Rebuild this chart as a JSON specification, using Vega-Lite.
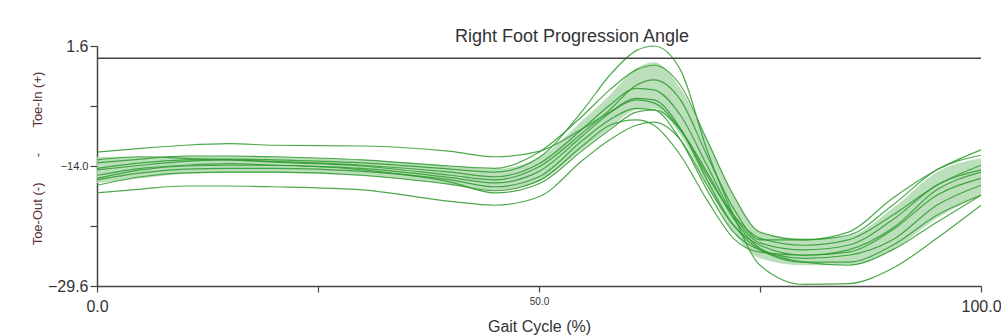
{
  "$schema": "https://vega.github.io/schema/vega-lite/v6.json",
  "width": 884,
  "height": 240,
  "autosize": "none",
  "padding": {"left": 97, "top": 46, "right": 20, "bottom": 49},
  "background": "white",
  "config": {"view": {"stroke": null}, "font": "Liberation Sans"},
  "title": {"text": "Right Foot Progression Angle", "fontSize": 18, "fontWeight": "normal", "color": "#333333", "dx": 33, "offset": -8, "font": "Liberation Sans"},
  "datasets": {
    "band": [
      {"g": 0, "hi": -12.8, "lo": -16.2}, {"g": 5, "hi": -12.8, "lo": -15.6}, {"g": 10, "hi": -12.7, "lo": -15.0},
      {"g": 15, "hi": -12.7, "lo": -14.9}, {"g": 20, "hi": -12.8, "lo": -14.9}, {"g": 30, "hi": -13.2, "lo": -15.3},
      {"g": 40, "hi": -14.0, "lo": -16.4}, {"g": 45, "hi": -14.4, "lo": -17.1}, {"g": 50, "hi": -12.9, "lo": -16.0},
      {"g": 55, "hi": -8.0, "lo": -11.7}, {"g": 58, "hi": -4.8, "lo": -9.1}, {"g": 61, "hi": -1.3, "lo": -6.7},
      {"g": 63, "hi": -0.5, "lo": -6.5}, {"g": 66, "hi": -3.9, "lo": -10.0}, {"g": 69, "hi": -10.6, "lo": -16.5},
      {"g": 72, "hi": -17.8, "lo": -22.6}, {"g": 75, "hi": -22.6, "lo": -26.0}, {"g": 80, "hi": -23.4, "lo": -26.9},
      {"g": 85, "hi": -23.1, "lo": -26.9}, {"g": 90, "hi": -19.5, "lo": -24.9}, {"g": 95, "hi": -14.8, "lo": -20.8},
      {"g": 100, "hi": -13.0, "lo": -17.8}
    ],
    "curves": [
      {"g":0,"C1":-12.2,"C2":-17.5,"C3":-14.3,"C4":-13.6,"C5":-14.5,"C6":-15.2,"C7":-15.8,"C8":-16.5,"C9":-13.2,"C10":-15.6},
      {"g":5,"C1":-11.7,"C2":-17.0,"C3":-13.6,"C4":-13.1,"C5":-13.9,"C6":-14.3,"C7":-14.9,"C8":-15.4,"C9":-12.8,"C10":-14.5},
      {"g":10,"C1":-11.3,"C2":-16.6,"C3":-13.2,"C4":-12.7,"C5":-13.4,"C6":-13.9,"C7":-14.4,"C8":-14.9,"C9":-13.0,"C10":-14.0},
      {"g":15,"C1":-11.1,"C2":-16.6,"C3":-13.1,"C4":-12.7,"C5":-13.2,"C6":-13.7,"C7":-14.3,"C8":-14.8,"C9":-13.2,"C10":-13.9},
      {"g":20,"C1":-11.3,"C2":-16.7,"C3":-13.2,"C4":-12.8,"C5":-13.4,"C6":-13.9,"C7":-14.3,"C8":-14.8,"C9":-13.5,"C10":-13.9},
      {"g":30,"C1":-11.4,"C2":-17.1,"C3":-13.6,"C4":-13.2,"C5":-13.9,"C6":-14.3,"C7":-14.7,"C8":-15.2,"C9":-14.0,"C10":-14.5},
      {"g":40,"C1":-12.1,"C2":-18.6,"C3":-14.4,"C4":-14.0,"C5":-14.8,"C6":-15.5,"C7":-15.8,"C8":-16.4,"C9":-15.2,"C10":-16.1},
      {"g":45,"C1":-12.8,"C2":-19.1,"C3":-14.8,"C4":-14.3,"C5":-15.4,"C6":-16.2,"C7":-16.7,"C8":-17.2,"C9":-15.8,"C10":-17.5},
      {"g":50,"C1":-12.1,"C2":-18.0,"C3":-12.9,"C4":-12.2,"C5":-13.7,"C6":-14.7,"C7":-15.4,"C8":-15.9,"C9":-14.1,"C10":-16.3},
      {"g":55,"C1":-9.1,"C2":-13.2,"C3":-6.7,"C4":-7.4,"C5":-9.1,"C6":-10.0,"C7":-10.6,"C8":-11.3,"C9":-9.6,"C10":-11.9},
      {"g":58,"C1":-7.0,"C2":-10.6,"C3":-2.2,"C4":-4.1,"C5":-6.1,"C6":-7.1,"C7":-8.0,"C8":-8.7,"C9":-6.7,"C10":-9.3},
      {"g":61,"C1":-5.4,"C2":-8.7,"C3":1.0,"C4":-1.5,"C5":-3.9,"C6":-5.2,"C7":-6.5,"C8":-8.0,"C9":-3.5,"C10":-7.0},
      {"g":63,"C1":-5.8,"C2":-8.3,"C3":1.6,"C4":-0.9,"C5":-4.1,"C6":-5.4,"C7":-6.7,"C8":-8.7,"C9":-2.8,"C10":-6.7},
      {"g":66,"C1":-9.3,"C2":-10.6,"C3":-1.5,"C4":-3.5,"C5":-7.4,"C6":-9.1,"C7":-10.6,"C8":-12.6,"C9":-5.4,"C10":-9.3},
      {"g":69,"C1":-15.2,"C2":-16.5,"C3":-11.9,"C4":-10.6,"C5":-13.9,"C6":-15.8,"C7":-17.1,"C8":-18.4,"C9":-12.6,"C10":-14.8},
      {"g":72,"C1":-20.4,"C2":-21.7,"C3":-20.4,"C4":-17.8,"C5":-20.4,"C6":-21.7,"C7":-22.6,"C8":-23.4,"C9":-19.5,"C10":-20.8},
      {"g":75,"C1":-23.4,"C2":-24.9,"C3":-26.9,"C4":-22.6,"C5":-24.0,"C6":-24.3,"C7":-24.9,"C8":-25.2,"C9":-23.6,"C10":-24.7},
      {"g":80,"C1":-24.3,"C2":-26.5,"C3":-29.4,"C4":-23.6,"C5":-24.9,"C6":-25.6,"C7":-26.0,"C8":-25.6,"C9":-23.6,"C10":-26.5},
      {"g":85,"C1":-23.6,"C2":-26.5,"C3":-29.3,"C4":-23.0,"C5":-24.3,"C6":-25.2,"C7":-25.6,"C8":-24.9,"C9":-22.6,"C10":-26.9},
      {"g":90,"C1":-20.4,"C2":-24.3,"C3":-27.3,"C4":-19.1,"C5":-21.0,"C6":-22.3,"C7":-23.6,"C8":-22.1,"C9":-18.2,"C10":-24.9},
      {"g":95,"C1":-16.5,"C2":-20.4,"C3":-23.4,"C4":-14.5,"C5":-16.5,"C6":-17.8,"C7":-19.1,"C8":-17.1,"C9":-14.5,"C10":-21.3},
      {"g":100,"C1":-13.9,"C2":-17.8,"C3":-19.1,"C4":-12.6,"C5":-14.5,"C6":-15.6,"C7":-16.5,"C8":-14.8,"C9":-11.9,"C10":-17.8}
    ]
  },
  "encoding": {
    "x": {
      "type": "quantitative",
      "scale": {"domain": [0, 100], "nice": false, "zero": false},
      "axis": {
        "title": "Gait Cycle (%)",
        "titleFontSize": 16,
        "titleFontWeight": "normal",
        "titleColor": "#333333",
        "titleBaseline": "top",
        "titleY": 32,
        "values": [0, 25, 50, 75, 100],
        "labelExpr": "datum.value == 25 || datum.value == 75 ? '' : format(datum.value, '.1f')",
        "labelFontSize": {"condition": {"test": "datum.value == 50", "value": 10}, "value": 16},
        "labelPadding": {"condition": {"test": "datum.value == 50", "value": 4}, "value": 6},
        "labelColor": "#333333",
        "labelFlush": false,
        "labelOverlap": false,
        "grid": false,
        "domainColor": "#444444",
        "domainWidth": 1.5,
        "tickColor": "#444444",
        "tickSize": 6,
        "tickWidth": 1.2
      }
    }
  },
  "layer": [
    {
      "data": {"name": "band"},
      "mark": {"type": "area", "color": "#b2dcb2", "opacity": 0.9, "interpolate": "monotone"},
      "encoding": {
        "x": {"field": "g", "type": "quantitative"},
        "y": {
          "field": "hi",
          "type": "quantitative",
          "scale": {"domain": [-29.6, 1.6], "nice": false, "zero": false},
          "axis": {
            "title": "Toe-Out (-)\u00a0\u00a0\u00a0\u00a0\u00a0\u00a0\u00a0-\u00a0\u00a0\u00a0\u00a0\u00a0\u00a0\u00a0Toe-In (+)",
            "titleFontSize": 13,
            "titleFontWeight": "normal",
            "titleColor": "#5c3038",
            "titleAngle": 270,
            "titleAlign": "center",
            "titleBaseline": "middle",
            "titleX": -60,
            "titleY": 112,
            "values": [1.6, -6.2, -14, -21.8, -29.6],
            "labelExpr": "datum.value == -6.2 || datum.value == -21.8 ? '' : format(datum.value, '.1f')",
            "labelFontSize": {"condition": {"test": "datum.value == -14", "value": 11}, "value": 16},
            "labelPadding": 2,
            "labelColor": "#333333",
            "labelFlush": false,
            "labelOverlap": false,
            "grid": false,
            "domainColor": "#444444",
            "domainWidth": 1.5,
            "tickColor": "#444444",
            "tickSize": 7,
            "tickWidth": 1.2
          }
        },
        "y2": {"field": "lo"}
      }
    },
    {
      "data": {"name": "curves"},
      "transform": [{"fold": ["C1", "C2", "C3", "C4", "C5", "C6", "C7", "C8", "C9", "C10"], "as": ["trial", "v"]}],
      "mark": {"type": "line", "color": "#2e9a2e", "strokeWidth": 1.2, "opacity": 0.85, "interpolate": "monotone", "clip": false},
      "encoding": {
        "x": {"field": "g", "type": "quantitative"},
        "y": {"field": "v", "type": "quantitative"},
        "detail": {"field": "trial", "type": "nominal"}
      }
    },
    {
      "data": {"values": [{"z": 0}]},
      "mark": {"type": "rule", "color": "#444444", "strokeWidth": 1.5},
      "encoding": {"y": {"field": "z", "type": "quantitative"}}
    }
  ]
}
